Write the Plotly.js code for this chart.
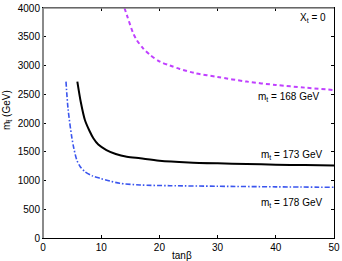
<!DOCTYPE html>
<html><head><meta charset="utf-8">
<script src="https://cdn.plot.ly/plotly-3.0.1.min.js"></script>
<style>html,body{margin:0;padding:0;background:#fff}#plot{width:342px;height:261px}</style>
</head><body><div id="plot"></div>
<script>
// tanβ values and stop masses (GeV) for each top mass
const tanb173 = [5.9, 6.5, 7.2, 8.0, 8.65, 9.5, 10.9, 12.5, 14.4, 16.7, 20, 25, 30, 35, 40, 45, 50];
const mst173  = [2720, 2360, 2052, 1860, 1734, 1625, 1530, 1462, 1414, 1386, 1345, 1315, 1299, 1287, 1275, 1268, 1262];

const tanb178 = [3.95, 4.3, 4.93, 5.3, 5.8, 6.4, 7.2, 8.5, 9.8, 11.5, 13.2, 16.7, 21.8, 30, 40, 50];
const mst178  = [2720, 2250, 1762, 1560, 1357, 1240, 1153, 1080, 1038, 990, 951, 922, 910, 900, 890, 882];

const tanb168 = [14.0, 14.5, 15.5, 16.1, 17.2, 18.4, 20.1, 21.8, 23.5, 26, 30, 35, 40, 45, 50];
const mst168  = [4000, 3850, 3560, 3443, 3299, 3183, 3066, 3000, 2940, 2870, 2800, 2720, 2661, 2615, 2574];

const xTicks = [0, 10, 20, 30, 40, 50];
const yTicks = [0, 500, 1000, 1500, 2000, 2500, 3000, 3500, 4000];

const labels = [
  {x: 46.4, y: 3826, text: 'X<sub>t</sub> = 0'},
  {x: 42.2, y: 2452, text: 'm<sub>t</sub> = 168 GeV'},
  {x: 42.7, y: 1443, text: 'm<sub>t</sub> = 173 GeV'},
  {x: 42.7, y: 609,  text: 'm<sub>t</sub> = 178 GeV'}
];

const font = {family: 'Liberation Sans, Arial, sans-serif', size: 10, color: '#000'};

const traces = [
  {x: tanb168, y: mst168, mode: 'lines', line: {color: '#c040ff', width: 2, dash: '4px,3px', shape: 'spline', smoothing: 0.8}},
  {x: tanb173, y: mst173, mode: 'lines', line: {color: '#000000', width: 2, shape: 'spline', smoothing: 0.8}},
  {x: tanb178, y: mst178, mode: 'lines', line: {color: '#3a55ee', width: 1.6, dash: '5px,2px,1.5px,2px', shape: 'spline', smoothing: 0.8}}
];

const annotations = labels.map(l => ({
  x: l.x, y: l.y, xref: 'x', yref: 'y', text: l.text, showarrow: false, font: font,
  xanchor: 'center', yanchor: 'middle'
}));
annotations.push({xref: 'paper', yref: 'paper', x: (7 - 43) / 291, y: (238 - 110) / 230,
  text: 'm<sub>t\u0303</sub> (GeV)', textangle: -90, showarrow: false, font: font,
  xanchor: 'center', yanchor: 'middle'});
annotations.push({xref: 'paper', yref: 'paper', x: (182 - 43) / 291, y: (238 - 255) / 230,
  text: 'tan\u03b2', showarrow: false, font: font, xanchor: 'center', yanchor: 'middle'});

const layout = {
  width: 342, height: 261,
  margin: {l: 43, r: 8, t: 8, b: 23, pad: 0},
  paper_bgcolor: '#fff', plot_bgcolor: '#fff',
  showlegend: false,
  font: font,
  xaxis: {range: [0, 50], tickvals: xTicks, ticktext: xTicks.map(String),
    ticks: 'inside', ticklen: 3, tickcolor: '#000', showgrid: false, zeroline: false,
    showline: true, linecolor: '#000', linewidth: 1, mirror: 'ticks', tickfont: font},
  yaxis: {range: [0, 4000], tickvals: yTicks, ticktext: yTicks.map(String),
    ticks: 'inside', ticklen: 3, tickcolor: '#000', showgrid: false, zeroline: false,
    showline: true, linecolor: '#000', linewidth: 1, mirror: 'ticks', tickfont: font},
  shapes: [
    {type: 'line', xref: 'paper', yref: 'paper', x0: 0, x1: 0, y0: 0, y1: 1, line: {color: '#8a8a8a', width: 2}},
    {type: 'line', xref: 'paper', yref: 'paper', x0: 0, x1: 1, y0: 1, y1: 1, line: {color: '#8a8a8a', width: 1.5}}
  ],
  annotations: annotations
};

Plotly.newPlot('plot', traces, layout, {displayModeBar: false});
</script></body></html>
